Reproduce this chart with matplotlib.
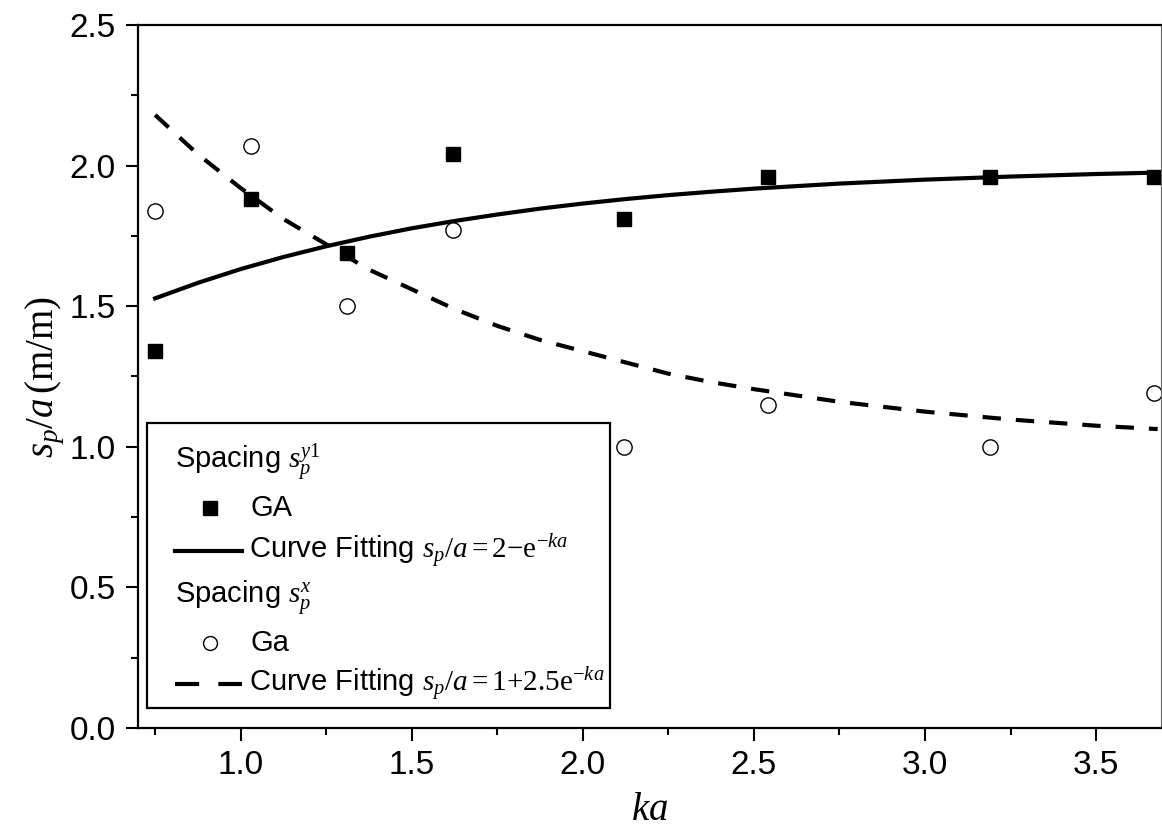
"""GA spacing vs ka with exponential curve fits."""
import matplotlib
matplotlib.use("Agg")
import matplotlib.pyplot as plt
from matplotlib.lines import Line2D
from matplotlib.patches import Rectangle
from matplotlib.ticker import MultipleLocator

# data
ka = [0.75, 1.03, 1.31, 1.62, 2.12, 2.54, 3.19, 3.67]
sp_y1 = [1.34, 1.88, 1.69, 2.04, 1.81, 1.96, 1.96, 1.96]   # GA, squares
sp_x = [1.84, 2.07, 1.50, 1.77, 1.00, 1.15, 1.00, 1.19]    # Ga, circles

# fitted curves
ka_fit = [0.75, 0.875, 1.0, 1.125, 1.25, 1.375, 1.5, 1.625, 1.75, 1.875,
          2.0, 2.125, 2.25, 2.375, 2.5, 2.75, 3.0, 3.25, 3.5, 3.68]
fit_y1 = [1.528, 1.583, 1.632, 1.675, 1.713, 1.747, 1.777, 1.803, 1.826,
          1.847, 1.865, 1.881, 1.895, 1.907, 1.918, 1.936, 1.950, 1.961,
          1.970, 1.975]
fit_x = [2.18, 2.04, 1.92, 1.81, 1.72, 1.63, 1.56, 1.49, 1.43, 1.38, 1.34,
         1.30, 1.26, 1.23, 1.205, 1.16, 1.125, 1.097, 1.075, 1.063]

legend_labels = [
    r"Spacing $s_p^{y1}$",
    "GA",
    r"Curve Fitting $s_p/a = 2\mathrm{-e}^{-ka}$",
    r"Spacing $s_p^{x}$",
    "Ga",
    r"Curve Fitting $s_p/a = 1\mathrm{+2.5e}^{-ka}$",
]

plt.rcParams["font.family"] = ["Liberation Sans", "DejaVu Sans"]
plt.rcParams["mathtext.fontset"] = "custom"
plt.rcParams["mathtext.rm"] = "Liberation Serif"
plt.rcParams["mathtext.it"] = "Liberation Serif:italic"

fig = plt.figure(figsize=(11.62, 8.27), dpi=100)
ax = fig.add_axes([0.1188, 0.1197, 0.8804, 0.8501])

ax.plot(ka_fit, fit_y1, "-", color="black", lw=3.0)
ax.plot(ka_fit, fit_x, "--", color="black", lw=3.0, dashes=(4.4, 3.6))
ax.plot(ka, sp_y1, "s", color="black", ms=10, ls="none")
ax.plot(ka, sp_x, "o", mfc="white", mec="black", mew=1.0, ms=11, ls="none")

ax.set_xlim(0.70, 3.69)
ax.set_ylim(0, 2.5)
ax.xaxis.set_major_locator(MultipleLocator(0.5))
ax.xaxis.set_minor_locator(MultipleLocator(0.25))
ax.yaxis.set_major_locator(MultipleLocator(0.5))
ax.yaxis.set_minor_locator(MultipleLocator(0.25))
ax.tick_params(which="major", direction="out", length=9, width=1.5,
               top=False, right=False)
ax.tick_params(which="minor", direction="out", length=5, width=1.5,
               top=False, right=False)
ax.tick_params(axis="y", labelsize=24, pad=7)
ax.tick_params(axis="x", labelsize=24, pad=7)

for side in ("left", "bottom", "top"):
    ax.spines[side].set_linewidth(1.6)
ax.spines["right"].set_linewidth(0.8)
ax.spines["right"].set_color("#666666")

ax.set_xlabel(r"$ka$", fontsize=28, labelpad=8)
ax.set_ylabel(r"$s_p/a\,\mathrm{(m/m)}$", fontsize=28, labelpad=2)

# legend drawn by hand: headers sit flush with the line handles
ax.add_patch(Rectangle((0.0088, 0.0284), 0.4526, 0.4055, transform=ax.transAxes,
                       fill=True, facecolor="white", edgecolor="black",
                       lw=1.6, zorder=5))
row_y = [0.377, 0.313, 0.252, 0.185, 0.121, 0.063]
x_hdl0, x_hdl1, x_txt = 0.0366, 0.102, 0.110
kw = dict(transform=ax.transAxes, zorder=6, va="center", fontsize=21)
ax.text(x_hdl0, row_y[0], legend_labels[0], **kw)
ax.add_line(Line2D([0.0704], [row_y[1]], marker="s", color="black", ms=10,
                   transform=ax.transAxes, zorder=6))
ax.text(x_txt, row_y[1], legend_labels[1], **kw)
ax.add_line(Line2D([x_hdl0, x_hdl1], [row_y[2]] * 2, color="black", lw=3.0,
                   transform=ax.transAxes, zorder=6))
ax.text(x_hdl1 + 0.006, row_y[2], legend_labels[2], **kw)
ax.text(x_hdl0, row_y[3], legend_labels[3], **kw)
ax.add_line(Line2D([0.0704], [row_y[4]], marker="o", mfc="white", mec="black",
                   mew=1.0, ms=10, transform=ax.transAxes, zorder=6))
ax.text(x_txt, row_y[4], legend_labels[4], **kw)
ax.add_line(Line2D([x_hdl0, x_hdl1], [row_y[5]] * 2, color="black", lw=3.0,
                   dashes=(5.8, 4.6), transform=ax.transAxes, zorder=6))
ax.text(x_hdl1 + 0.006, row_y[5], legend_labels[5], **kw)

fig.savefig("out.png", dpi=100, facecolor="white")
plt.close(fig)
